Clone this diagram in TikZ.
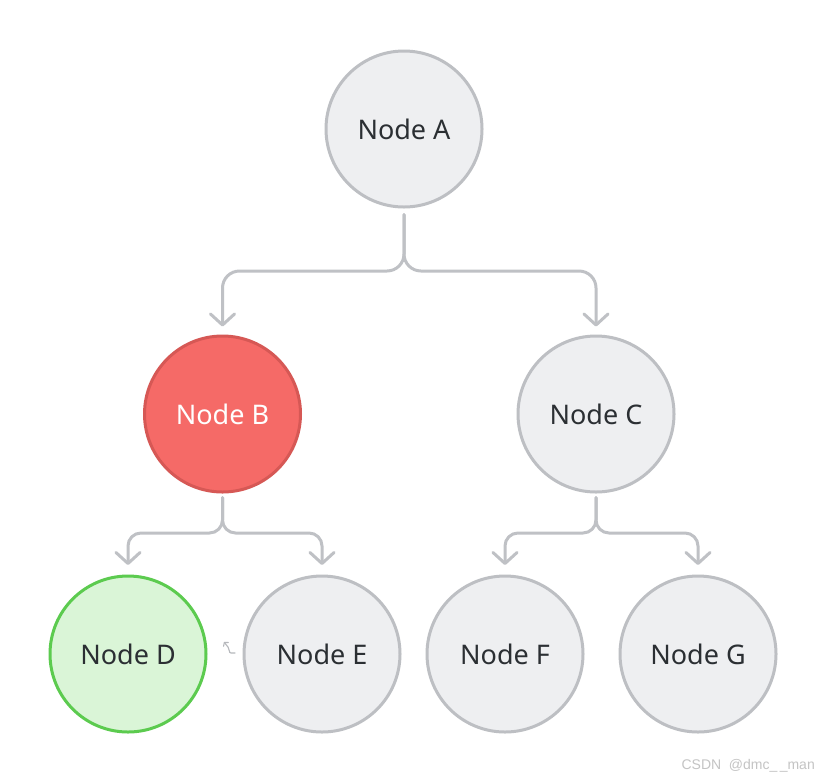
\documentclass[tikz,border=0pt]{standalone}
\usepackage{fontspec}
\setmainfont{Noto Sans}
\newfontfamily\wmfont{Liberation Sans}
\usetikzlibrary{arrows.meta}
\definecolor{nodefill}{HTML}{EEEFF1}
\definecolor{nodeline}{HTML}{BDBFC3}
\definecolor{txt}{HTML}{2B2F33}
\definecolor{redfill}{HTML}{F56A67}
\definecolor{redline}{HTML}{D65855}
\definecolor{greenfill}{HTML}{DAF5D7}
\definecolor{greenline}{HTML}{5CCB4F}
\definecolor{connc}{HTML}{BFC1C5}
\definecolor{wm}{HTML}{C4C4C4}
\tikzset{
  circnode/.style={circle, minimum size=156pt, inner sep=0pt, line width=3pt,
    draw=nodeline, fill=nodefill, text=txt, font=\fontsize{27}{32}\selectfont},
  rednode/.style={circnode, draw=redline, fill=redfill, text=white},
  greennode/.style={circnode, draw=greenline, fill=greenfill},
  conn/.style={draw=connc, line width=3pt, line cap=round, line join=round,
    -{Straight Barb[length=11pt,width=24pt,line width=3pt,round]}},
  glyph/.style={draw=connc!85!gray, line width=1.1pt, line cap=round, line join=round,
    -{Straight Barb[length=2.5pt,width=6pt,line width=1.1pt,round]}},
  wmark/.style={text=wm, font=\wmfont\fontsize{14}{16}\selectfont, inner sep=0pt}
}
\begin{document}
\begin{tikzpicture}[x=1pt,y=-1pt]
\useasboundingbox[fill=white] (0,0) rectangle (826,780);
\node[circnode] (A) at (404,129) {Node A};
\node[rednode] (B) at (222.5,414) {Node B};
\node[circnode] (C) at (596,414) {Node C};
\node[greennode] (D) at (128,654) {Node D};
\node[circnode] (E) at (322,654) {Node E};
\node[circnode] (F) at (505,654) {Node F};
\node[circnode] (G) at (698,654) {Node G};
\coordinate (fA) at (404,271);
\coordinate (fB) at (222.5,533);
\coordinate (fC) at (596,533);
\draw[conn, rounded corners=17pt] ([yshift=-6pt]A.south) -- (fA) -| ([yshift=8pt]B.north);
\draw[conn, rounded corners=17pt] ([yshift=-6pt]A.south) -- (fA) -| ([yshift=8pt]C.north);
\draw[conn, rounded corners=13pt] ([yshift=-4pt]B.south) -- (fB) -| ([yshift=9.5pt]D.north);
\draw[conn, rounded corners=13pt] ([yshift=-4pt]B.south) -- (fB) -| ([yshift=9.5pt]E.north);
\draw[conn, rounded corners=13pt] ([yshift=-4pt]C.south) -- (fC) -| ([yshift=9.5pt]F.north);
\draw[conn, rounded corners=13pt] ([yshift=-4pt]C.south) -- (fC) -| ([yshift=9.5pt]G.north);
\coordinate (g0) at (235,653);
\coordinate (g1) at (224,642);
\draw[glyph] (g0) -- (231,653) .. controls (228.5,653) and (230,649) .. (228,647) -- (g1);
\node[wmark, anchor=base east] (wm) at (815,769) {CSDN\ \ @dmc\_\,\_man};
\end{tikzpicture}
\end{document}
